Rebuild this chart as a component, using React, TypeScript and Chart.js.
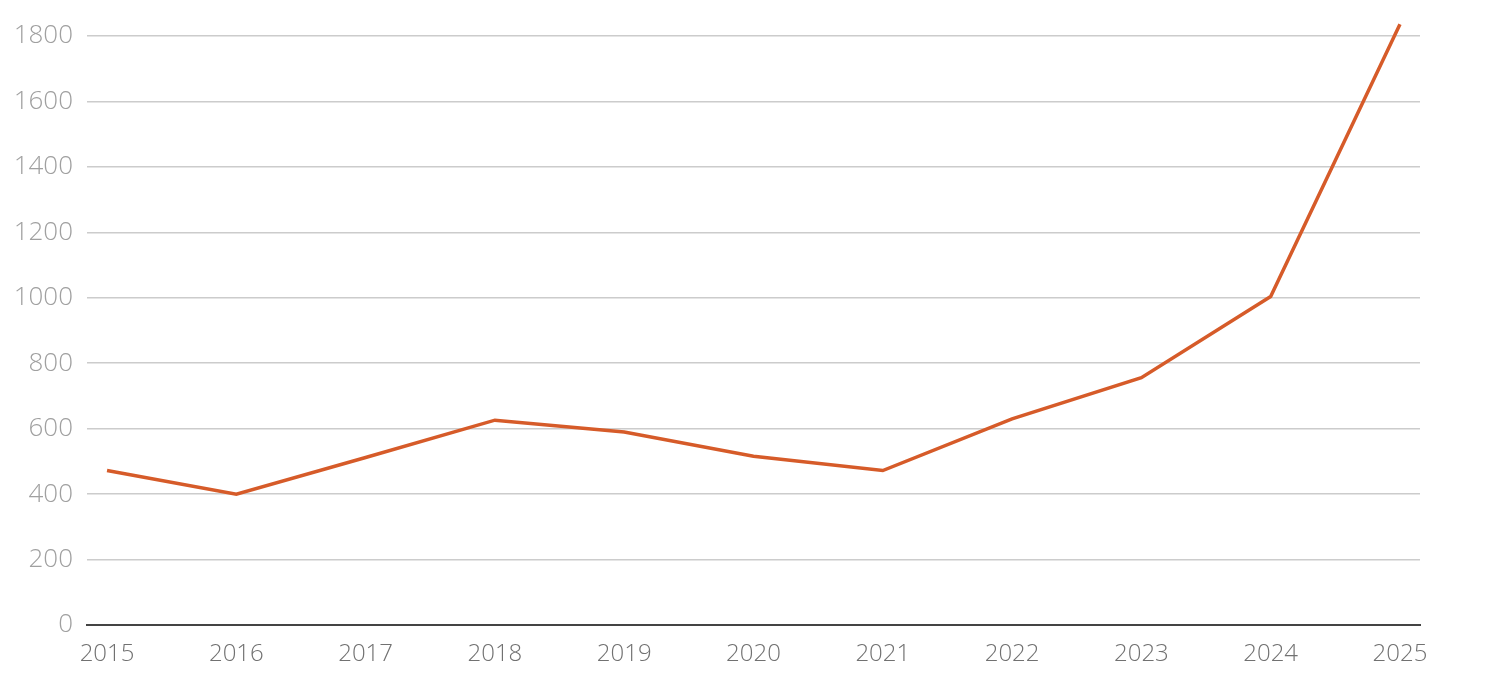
import React, { useEffect, useRef } from "react";
import { Chart, registerables } from "chart.js";

Chart.register(...registerables);

const years = [2015, 2016, 2017, 2018, 2019, 2020, 2021, 2022, 2023, 2024, 2025];
const values = [472, 400, 512, 626, 590, 516, 472, 630, 756, 1004, 1836];
const yTicks = [0, 200, 400, 600, 800, 1000, 1200, 1400, 1600, 1800];

const LINE_COLOR = "#d65b29";
const FONT = "'Open Sans', 'Noto Sans', sans-serif";

export default function App() {
  const canvasRef = useRef<HTMLCanvasElement | null>(null);

  useEffect(() => {
    if (!canvasRef.current) return;
    const chart = new Chart(canvasRef.current, {
      type: "line",
      data: {
        datasets: [
          {
            data: years.map((y, i) => ({ x: y, y: values[i] })),
            borderColor: LINE_COLOR,
            borderWidth: 3.5,
            pointRadius: 0,
            tension: 0,
            clip: false,
          },
        ],
      },
      options: {
        animation: false,
        responsive: false,
        maintainAspectRatio: false,
        layout: { padding: { top: 36, right: 66, bottom: 0, left: 0 } },
        plugins: { legend: { display: false }, tooltip: { enabled: false } },
        scales: {
          x: {
            type: "linear",
            min: 2014.845,
            max: 2025.155,
            afterBuildTicks: (axis: any) => {
              axis.ticks = years.map((v) => ({ value: v }));
            },
            afterFit: (axis: any) => {
              axis.height = 75;
            },
            grid: { display: false, drawTicks: false },
            border: { display: true, color: "#444444", width: 2 },
            ticks: {
              padding: 15,
              color: "#717171",
              font: { family: FONT, size: 24, weight: "300" },
              maxRotation: 0,
              autoSkip: false,
              callback: (v: any) => String(v),
            },
          },
          y: {
            min: 0,
            max: 1800,
            afterBuildTicks: (axis: any) => {
              axis.ticks = yTicks.map((v) => ({ value: v }));
            },
            afterFit: (axis: any) => {
              axis.width = 87;
            },
            grid: { color: "#cccccc", lineWidth: 1.5, drawTicks: false },
            border: { display: false },
            ticks: {
              padding: 14,
              color: "#a0a0a0",
              font: { family: FONT, size: 26, weight: "300" },
              callback: (v: any) => String(v),
            },
          },
        },
      },
    });
    return () => chart.destroy();
  }, []);

  return (
    <div style={{ position: "fixed", left: 0, top: 0, width: 1486, height: 700, background: "#ffffff" }}>
      <canvas ref={canvasRef} width={1486} height={700} style={{ display: "block" }} />
    </div>
  );
}
